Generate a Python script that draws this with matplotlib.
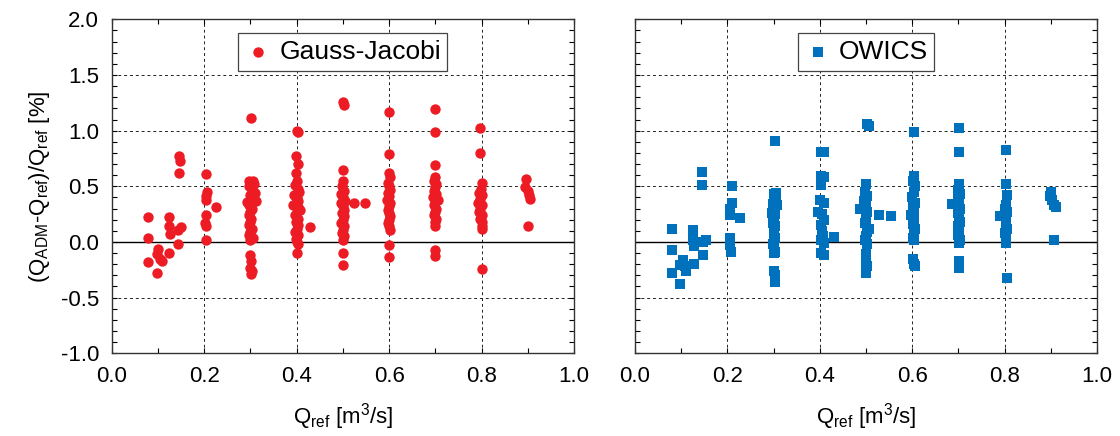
import numpy as np
import matplotlib.pyplot as plt
from matplotlib.ticker import MultipleLocator

plt.rcParams['font.family'] = 'Liberation Sans'
plt.rcParams['mathtext.fontset'] = 'custom'
plt.rcParams['mathtext.rm'] = 'Liberation Sans'
plt.rcParams['mathtext.it'] = 'Liberation Sans'

# Gauss-Jacobi: reference discharge [m3/s] and relative error [%]
gj_q = [0.079, 0.079, 0.079, 0.097, 0.100, 0.097, 0.108, 0.104,
        0.124, 0.125, 0.126, 0.124, 0.144, 0.143, 0.150, 0.146, 0.147, 0.146,
        0.205, 0.206, 0.203, 0.205, 0.204, 0.202, 0.203, 0.205, 0.226,
        0.302, 0.296, 0.305, 0.300, 0.308, 0.298, 0.303, 0.310, 0.300, 0.305,
        0.312, 0.292, 0.298, 0.303, 0.300, 0.296, 0.302, 0.300, 0.298, 0.303,
        0.300, 0.298, 0.305, 0.300, 0.300, 0.302, 0.300, 0.304, 0.302,
        0.400, 0.404, 0.398, 0.402, 0.398, 0.400, 0.396, 0.402, 0.406, 0.394,
        0.400, 0.404, 0.398, 0.392, 0.402, 0.408, 0.400, 0.396, 0.402, 0.398,
        0.404, 0.400, 0.396, 0.402, 0.398, 0.400, 0.404, 0.400, 0.428,
        0.500, 0.502, 0.500, 0.500, 0.498, 0.503, 0.496, 0.500, 0.505, 0.495,
        0.500, 0.503, 0.498, 0.502, 0.500, 0.497, 0.502, 0.500, 0.498, 0.502,
        0.500, 0.500, 0.500, 0.525, 0.548,
        0.600, 0.600, 0.600, 0.602, 0.598, 0.600, 0.602, 0.598, 0.600, 0.596,
        0.602, 0.600, 0.598, 0.600, 0.602, 0.600, 0.598, 0.600, 0.602, 0.600, 0.600,
        0.700, 0.700, 0.700, 0.700, 0.698, 0.702, 0.700, 0.698, 0.702, 0.694,
        0.706, 0.700, 0.698, 0.702, 0.700, 0.698, 0.702, 0.700, 0.700, 0.700, 0.700,
        0.797, 0.797, 0.800, 0.798, 0.795, 0.800, 0.797, 0.793, 0.800, 0.797,
        0.795, 0.800, 0.797, 0.800, 0.802, 0.800, 0.800,
        0.897, 0.895, 0.900, 0.903, 0.905, 0.900]
gj_err = [0.22, 0.04, -0.18, -0.28, -0.06, -0.11, -0.17, -0.15,
          0.22, 0.14, 0.07, -0.10, -0.02, 0.11, 0.13, 0.77, 0.73, 0.62,
          0.61, 0.45, 0.41, 0.38, 0.24, 0.17, 0.14, 0.02, 0.31,
          1.11, 0.55, 0.55, 0.53, 0.52, 0.50, 0.47, 0.44, 0.42, 0.38,
          0.37, 0.36, 0.33, 0.30, 0.27, 0.24, 0.21, 0.18, 0.15, 0.12,
          0.09, 0.06, 0.04, 0.02, -0.12, -0.17, -0.23, -0.26, -0.29,
          1.00, 0.99, 0.77, 0.70, 0.62, 0.55, 0.51, 0.48, 0.45, 0.42,
          0.40, 0.37, 0.35, 0.33, 0.31, 0.29, 0.27, 0.24, 0.21, 0.18,
          0.15, 0.12, 0.09, 0.06, 0.03, 0.00, -0.02, -0.10, 0.13,
          1.26, 1.23, 0.65, 0.55, 0.50, 0.46, 0.43, 0.40, 0.37, 0.35,
          0.32, 0.29, 0.26, 0.23, 0.20, 0.17, 0.14, 0.11, 0.08, 0.05,
          0.02, -0.10, -0.21, 0.35, 0.35,
          1.17, 0.79, 0.62, 0.58, 0.53, 0.50, 0.47, 0.44, 0.41, 0.38,
          0.35, 0.32, 0.29, 0.26, 0.23, 0.20, 0.17, 0.14, 0.11, -0.03, -0.135,
          1.19, 0.99, 0.69, 0.58, 0.55, 0.52, 0.49, 0.46, 0.43, 0.40,
          0.38, 0.36, 0.33, 0.30, 0.27, 0.24, 0.21, 0.18, 0.14, -0.07, -0.13,
          1.02, 0.80, 0.53, 0.48, 0.44, 0.42, 0.39, 0.35, 0.33, 0.30,
          0.27, 0.24, 0.21, 0.18, 0.14, 0.12, -0.24,
          0.57, 0.49, 0.46, 0.42, 0.39, 0.14]

# OWICS
ow_q = [0.079, 0.079, 0.079, 0.097, 0.097, 0.104, 0.109, 0.111,
        0.127, 0.126, 0.126, 0.128, 0.148, 0.147, 0.154, 0.146, 0.145,
        0.209, 0.209, 0.205, 0.205, 0.228, 0.205, 0.206, 0.207,
        0.302, 0.300, 0.306, 0.305, 0.298, 0.308, 0.300, 0.296, 0.303, 0.300,
        0.298, 0.302, 0.300, 0.300, 0.302, 0.300, 0.298, 0.304, 0.300, 0.300,
        0.302, 0.302, 0.304,
        0.402, 0.410, 0.402, 0.410, 0.402, 0.400, 0.410, 0.395, 0.404, 0.410,
        0.402, 0.404, 0.406, 0.402, 0.410, 0.402, 0.410, 0.430,
        0.502, 0.506, 0.500, 0.498, 0.503, 0.496, 0.500, 0.488, 0.502, 0.500,
        0.498, 0.506, 0.502, 0.500, 0.498, 0.502, 0.500, 0.500, 0.502, 0.500,
        0.500, 0.528, 0.553,
        0.604, 0.604, 0.602, 0.606, 0.604, 0.600, 0.606, 0.602, 0.604, 0.598,
        0.604, 0.602, 0.606, 0.604, 0.602, 0.604, 0.602, 0.604, 0.605,
        0.702, 0.702, 0.702, 0.700, 0.704, 0.700, 0.702, 0.687, 0.704, 0.700,
        0.702, 0.704, 0.700, 0.702, 0.700, 0.704, 0.702, 0.702, 0.702, 0.702,
        0.804, 0.804, 0.806, 0.802, 0.800, 0.806, 0.790, 0.804, 0.802, 0.806,
        0.800, 0.804, 0.802, 0.804, 0.806,
        0.900, 0.898, 0.902, 0.906, 0.912, 0.906]
ow_err = [0.12, -0.07, -0.28, -0.38, -0.21, -0.16, -0.22, -0.26,
          -0.20, 0.11, 0.02, -0.04, -0.12, 0.00, 0.02, 0.63, 0.51,
          0.50, 0.35, 0.30, 0.24, 0.215, 0.035, -0.03, -0.09,
          0.91, 0.43, 0.44, 0.38, 0.34, 0.33, 0.30, 0.26, 0.25, 0.21,
          0.17, 0.14, 0.12, 0.07, 0.04, 0.00, -0.02, -0.09, -0.10, -0.26,
          -0.30, -0.33, -0.36,
          0.81, 0.81, 0.59, 0.58, 0.51, 0.38, 0.35, 0.27, 0.25, 0.20,
          0.15, 0.10, 0.05, 0.02, -0.01, -0.10, -0.12, 0.045,
          1.06, 1.04, 0.52, 0.45, 0.41, 0.37, 0.33, 0.30, 0.27, 0.21,
          0.17, 0.12, 0.09, 0.05, 0.02, -0.02, -0.11, -0.19, -0.22, -0.25,
          -0.28, 0.245, 0.235,
          0.99, 0.59, 0.55, 0.50, 0.45, 0.40, 0.35, 0.31, 0.27, 0.24,
          0.20, 0.16, 0.12, 0.08, 0.04, 0.02, -0.15, -0.20, -0.22,
          1.02, 0.81, 0.52, 0.47, 0.43, 0.40, 0.37, 0.34, 0.30, 0.26,
          0.22, 0.18, 0.14, 0.10, 0.06, 0.02, -0.01, -0.17, -0.20, -0.23,
          0.83, 0.52, 0.42, 0.33, 0.30, 0.27, 0.23, 0.19, 0.15, 0.12,
          0.08, 0.05, 0.01, -0.01, -0.32,
          0.45, 0.41, 0.38, 0.33, 0.31, 0.02]

red = '#ED1C24'
blue = '#0071BC'

fig = plt.figure(figsize=(11.2, 4.36), dpi=100)
ax1 = fig.add_axes([0.0997, 0.1897, 0.4128, 0.766])
ax2 = fig.add_axes([0.567, 0.1897, 0.4125, 0.766])

for ax, q, e, col, mk, sz, lab in [(ax1, gj_q, gj_err, red, 'o', 56, 'Gauss-Jacobi'),
                                   (ax2, ow_q, ow_err, blue, 's', 50, 'OWICS')]:
    ax.set_xlim(0, 1)
    ax.set_ylim(-1, 2)
    ax.xaxis.set_major_locator(MultipleLocator(0.2))
    ax.xaxis.set_minor_locator(MultipleLocator(0.1))
    ax.yaxis.set_major_locator(MultipleLocator(0.5))
    ax.yaxis.set_minor_locator(MultipleLocator(0.1))
    ax.xaxis.set_major_formatter(lambda v, p: f'{v:.1f}')
    ax.yaxis.set_major_formatter(lambda v, p: f'{v:.1f}')
    ax.grid(True, which='major', color='#222222', linestyle=(0, (3, 3)), linewidth=0.7)
    ax.axhline(0, color='black', linewidth=1.0, zorder=2)
    ax.scatter(q, e, s=sz, c=col, marker=mk, linewidths=0, label=lab, zorder=3)
    ax.tick_params(which='both', direction='in', top=True, right=True, length=3.5,
                   width=0.8, labelsize=16, pad=9)
    for sp in ax.spines.values():
        sp.set_linewidth(1.0)
        sp.set_color('#333333')
    ax.set_xlabel('Q$_\\mathrm{ref}$ [m$^3$/s]', fontsize=16, labelpad=10)
    leg = ax.legend(loc='upper center', bbox_to_anchor=(0.5, 0.958), borderaxespad=0,
                    fontsize=19, fancybox=False, framealpha=1, edgecolor='#444444',
                    handletextpad=0.3, handlelength=1.0, borderpad=0.25, scatterpoints=1)
    leg.get_frame().set_linewidth(0.9)

ax2.tick_params(labelleft=False)
ax1.set_ylabel('(Q$_\\mathrm{ADM}$-Q$_\\mathrm{ref}$)/Q$_\\mathrm{ref}$ [%]', fontsize=16, labelpad=6)

fig.savefig('out.png', dpi=100)
